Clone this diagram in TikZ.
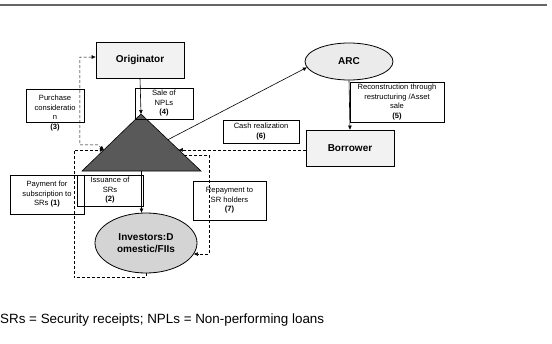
\documentclass[tikz,border=0pt]{standalone}
\usepackage{fontspec}
\setmainfont{Liberation Sans}
\usetikzlibrary{shapes.geometric,arrows.meta,calc}
\definecolor{boxgray}{HTML}{F2F2F2}
\definecolor{arcgray}{HTML}{EBEBEB}
\definecolor{invgray}{HTML}{D4D4D4}
\definecolor{trigray}{HTML}{595959}
\tikzset{
    party-box/.style = {draw, fill=boxgray, line width=0.8pt, rectangle, minimum width=88pt, minimum height=36pt, font=\fontsize{10}{12}\selectfont\bfseries},
    party-oval/.style = {draw, line width=0.8pt, ellipse, inner sep=0pt, align=center, font=\fontsize{10}{12}\selectfont\bfseries},
    flow-box/.style = {draw, line width=0.8pt, rectangle, inner sep=0pt, align=center, font=\fontsize{7.6}{9.5}\selectfont},
    flow/.style = {-{Triangle[length=4pt,width=3.5pt]}, line width=0.6pt},
    cash-flow/.style = {flow, densely dashed, line width=0.5pt},
    two-way/.style = {cash-flow, {Triangle[length=4pt,width=3.5pt]}-{Triangle[length=4pt,width=3.5pt]}},
}

\begin{document}
\begin{tikzpicture}[x=1pt,y=-1pt]
\useasboundingbox (0,0) rectangle (552,343);
\draw[line width=1.2pt, gray!80!black] (0,5) -- (547,5);

\node[party-box] (orig) at (140,60) {Originator};
\node[party-box] (bor) at (350,148) {Borrower};
\node[party-oval, fill=arcgray, minimum width=88pt, minimum height=37pt] (arc) at (349,61.5) {ARC};
\node[party-oval, fill=invgray, minimum width=102pt, minimum height=60pt] (inv) at (146,243) {Investors:D\\omestic/FIIs};

\coordinate (apex) at (141,114);
\coordinate (base-l) at (82,171);
\coordinate (base-r) at (201,171);
\coordinate (base-m) at ($(base-l)!0.5!(base-r)$);
\coordinate (side-l) at ($(apex)!0.63!(base-l)$);
\coordinate (side-r) at ($(apex)!0.63!(base-r)$);
\coordinate (side-r2) at ($(apex)!0.72!(base-r)$);
\filldraw[fill=trigray, draw=black, line width=0.6pt] (apex) -- (base-l) -- (base-r) -- cycle;

\node[flow-box, minimum width=94pt, minimum height=40pt] (recon) at (397,102) {Reconstruction through\\restructuring /Asset\\sale\\\textbf{(5)}};
\node[flow-box, minimum width=76pt, minimum height=23pt] (cash) at (261,131.5) {Cash realization\\\textbf{(6)}};
\node[flow-box, minimum width=58pt, minimum height=31pt] (sale) at (164,103.5) {Sale of\\NPLs\\\textbf{(4)}};
\node[flow-box, minimum width=58pt, minimum height=33pt] (purch) at (55,105.5) {};
\node[flow-box, draw=none] (purch-text) at (55,113) {Purchase\\consideratio\\n\\\textbf{(3)}};
\node[flow-box, minimum width=74pt, minimum height=39pt] (pay) at (47,194.5) {Payment for\\subscription to\\SRs \textbf{(1)}};
\node[flow-box, minimum width=66pt, minimum height=31pt] (issue) at (110,190.5) {Issuance of\\SRs\\\textbf{(2)}};
\node[flow-box, minimum width=73pt, minimum height=39pt] (repay) at (229.5,200.5) {Repayment to\\SR holders\\\textbf{(7)}};

\draw[flow] (orig.south) -- (apex);
\draw[flow] ($(apex)!0.45!(base-r)$) -- (arc.188);
\draw[flow] (arc.south) -- (bor.north);
\draw[flow] (base-m) -- (base-m |- inv.north);
\draw[cash-flow] (bor.west |- side-r) -- (side-r);
\draw[two-way] ($(orig.west)+(0,-3)$) -| ($(side-l)+(-24,-5)$) -- ($(side-l)+(-6,-5)$) -- (side-l);
\draw[cash-flow] (inv.south) -- ++(0,4) -| ($(side-l)+(-30,0)$) -- (side-l);
\draw[cash-flow] (side-r2) -- ++(25,0) |- (inv.-13);

\node[anchor=west, inner sep=0pt, font=\fontsize{13.4}{15}\selectfont] (note) at (0,320) {SRs = Security receipts; NPLs = Non-performing loans};
\end{tikzpicture}
\end{document}
